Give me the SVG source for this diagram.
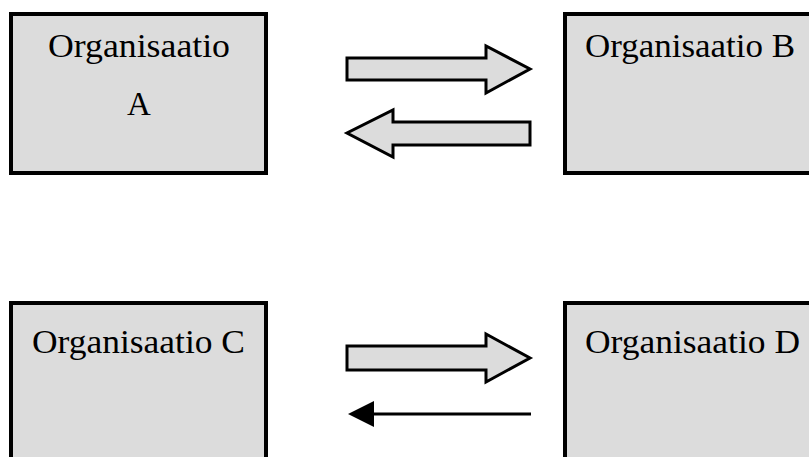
<svg xmlns="http://www.w3.org/2000/svg" width="809" height="457" viewBox="0 0 809 457">
<style>
.box{fill:#dcdcdc;stroke:#000;stroke-width:4}
.fat{fill:#dcdcdc;stroke:#000;stroke-width:3;stroke-linejoin:miter}
.t{font-family:"Liberation Serif",serif;font-size:33px;fill:#000}
</style>
<defs>
<marker id="ah" markerUnits="userSpaceOnUse" markerWidth="28" markerHeight="26" refX="1" refY="13" orient="auto">
<path d="M26,13 L0,0 L0,26 Z" fill="#000"/>
</marker>
</defs>
<g id="nodeA"><rect class="box" x="11" y="14" width="255" height="159"/>
<text class="t" x="139" y="57" text-anchor="middle" textLength="182" lengthAdjust="spacingAndGlyphs">Organisaatio</text>
<text class="t" x="139" y="115" text-anchor="middle">A</text></g>
<g id="nodeB"><rect class="box" x="565" y="14" width="260" height="159"/>
<text class="t" x="585" y="57" textLength="210" lengthAdjust="spacingAndGlyphs">Organisaatio B</text></g>
<g id="nodeC"><rect class="box" x="11" y="303" width="255" height="170"/>
<text class="t" x="32" y="353" textLength="213" lengthAdjust="spacingAndGlyphs">Organisaatio C</text></g>
<g id="nodeD"><rect class="box" x="565" y="303" width="260" height="170"/>
<text class="t" x="585" y="353" textLength="215" lengthAdjust="spacingAndGlyphs">Organisaatio D</text></g>
<g id="connectors">
<path class="fat" d="M347,58 H486 V46 L530,69 L486,93 V80 H347 Z"/>
<path class="fat" d="M530,122 H393 V110 L347,133 L393,157 V145 H530 Z"/>
<path class="fat" d="M347,346 H486 V334 L530,358 L486,382 V370 H347 Z"/>
<line x1="531" y1="414" x2="373" y2="414" stroke="#000" stroke-width="3" marker-end="url(#ah)"/>
</g>
</svg>
